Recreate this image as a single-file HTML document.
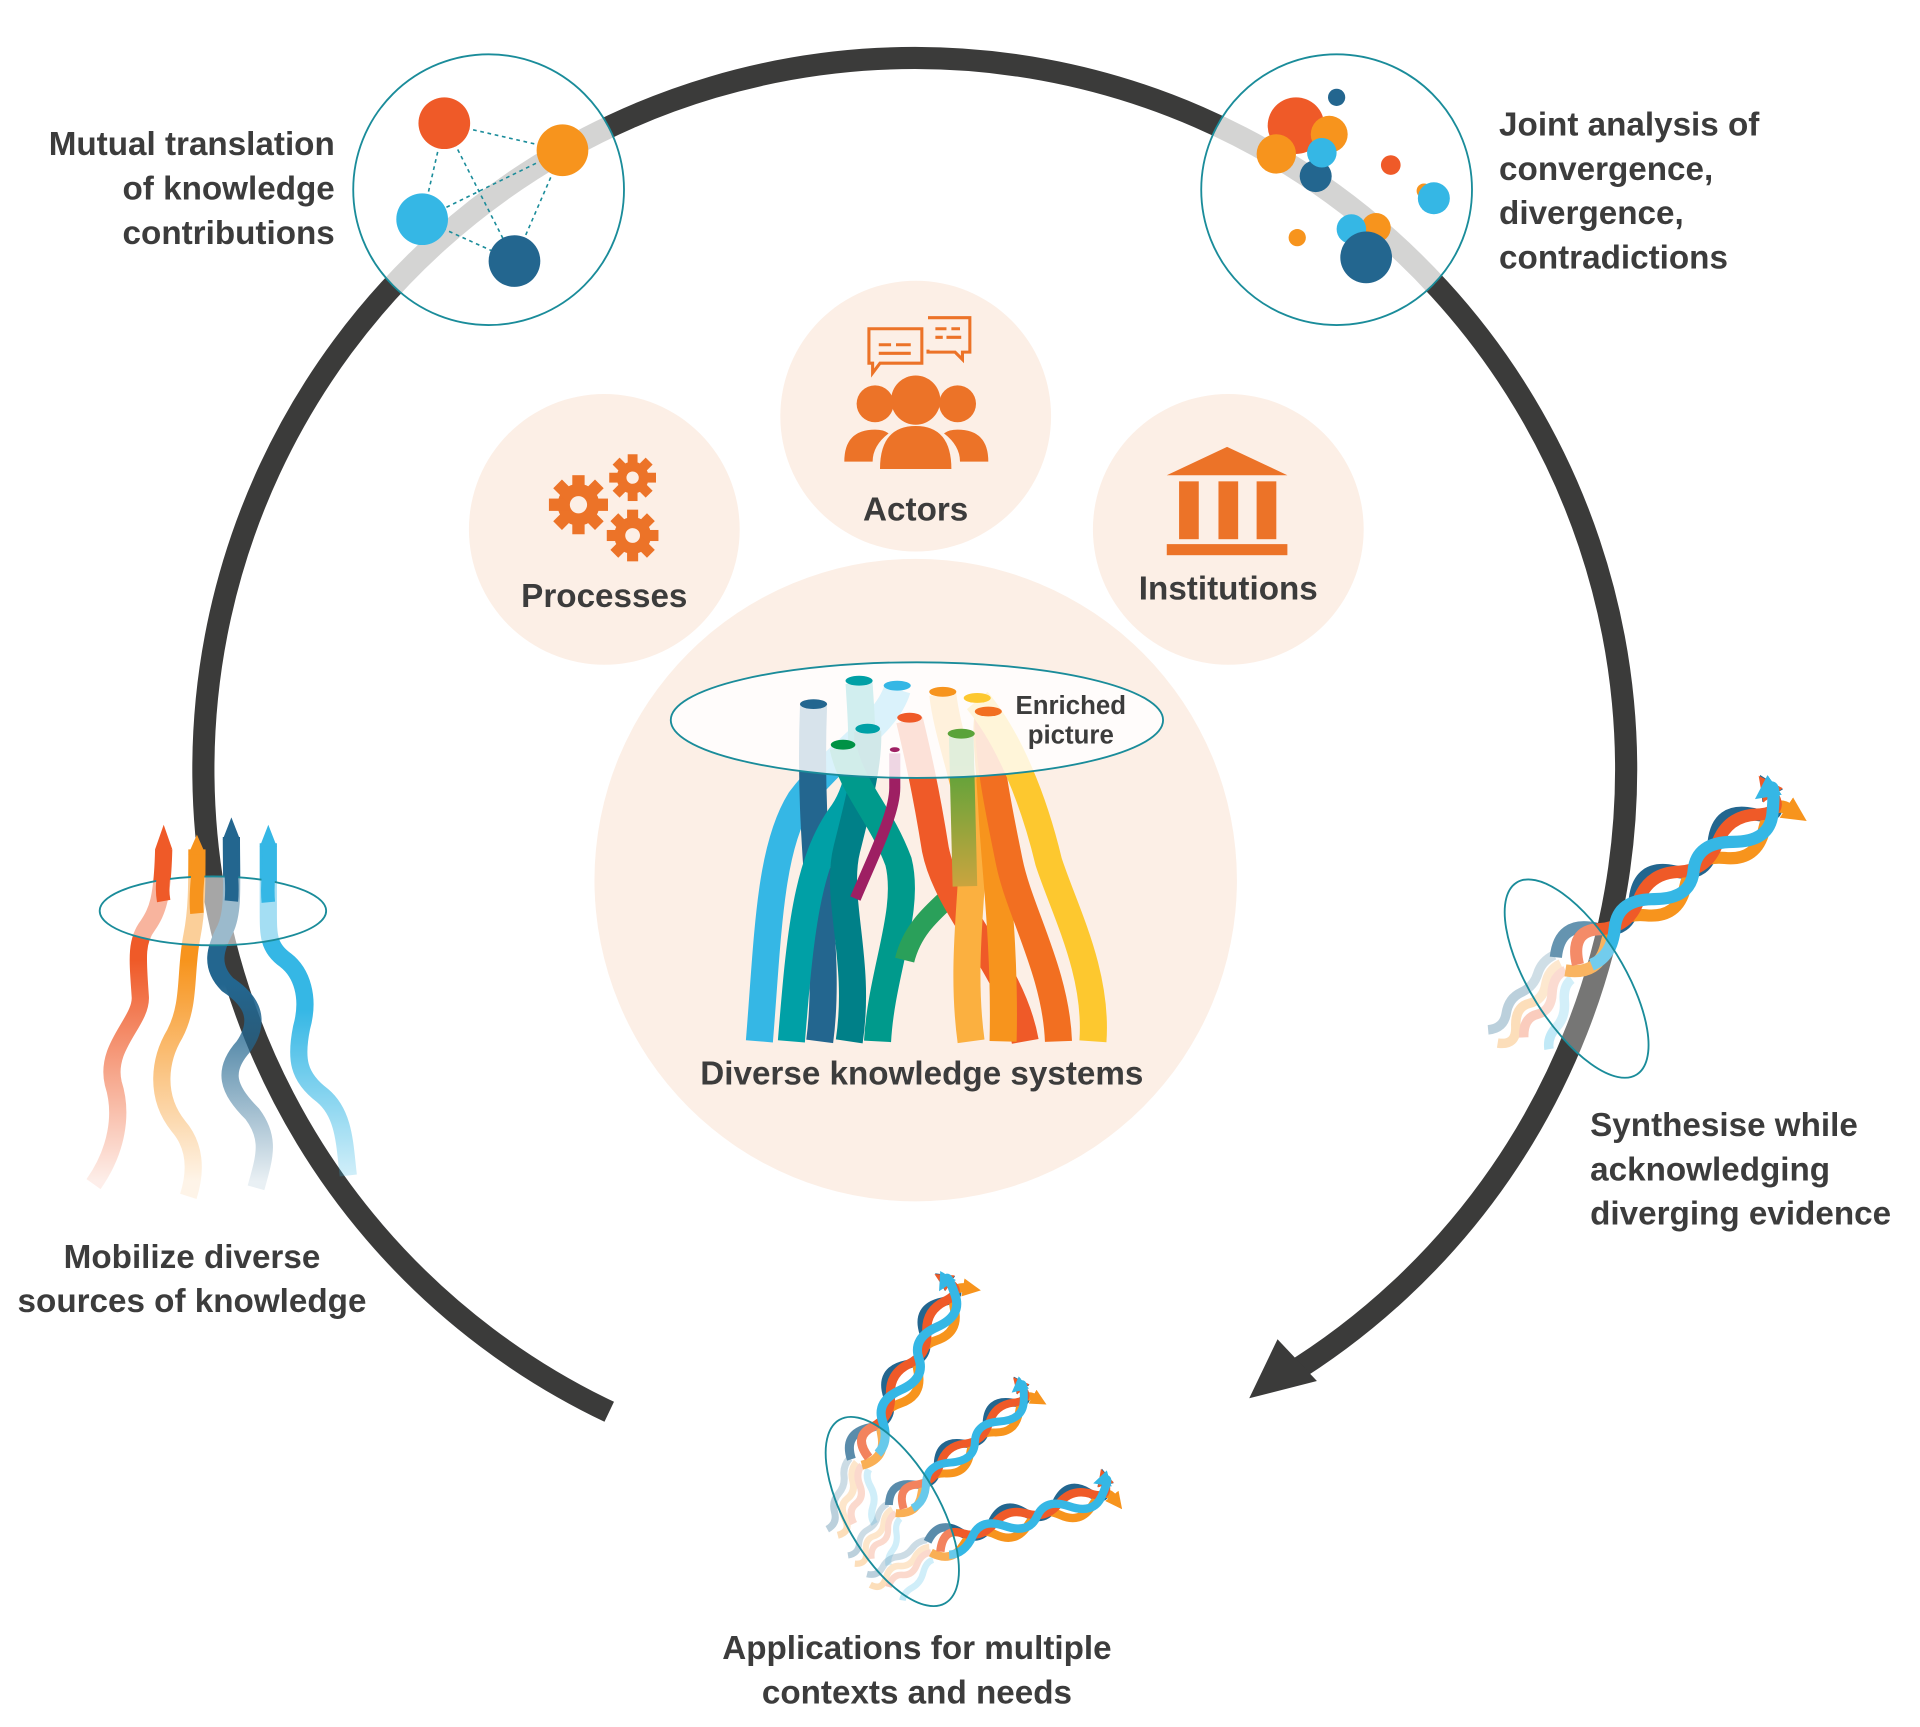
<!DOCTYPE html>
<html><head><meta charset="utf-8"><style>
html,body{margin:0;padding:0;background:#fff;}
svg{display:block;}
text{font-family:"Liberation Sans",sans-serif;font-weight:bold;fill:#3c3c3c;}
</style></head><body>
<svg width="1920" height="1727" viewBox="0 0 1560 1403" xmlns="http://www.w3.org/2000/svg">
<defs>
<linearGradient id="gR" gradientUnits="userSpaceOnUse" x1="0" y1="960" x2="0" y2="780"><stop offset="0" stop-color="#ef5a28" stop-opacity="0.1"/><stop offset="1" stop-color="#ef5a28"/></linearGradient>
<linearGradient id="gO" gradientUnits="userSpaceOnUse" x1="0" y1="960" x2="0" y2="780"><stop offset="0" stop-color="#f7941d" stop-opacity="0.1"/><stop offset="1" stop-color="#f7941d"/></linearGradient>
<linearGradient id="gD" gradientUnits="userSpaceOnUse" x1="0" y1="960" x2="0" y2="800"><stop offset="0" stop-color="#23668f" stop-opacity="0.1"/><stop offset="1" stop-color="#23668f"/></linearGradient>
<linearGradient id="gL" gradientUnits="userSpaceOnUse" x1="0" y1="960" x2="0" y2="820"><stop offset="0" stop-color="#35b7e5" stop-opacity="0.2"/><stop offset="1" stop-color="#35b7e5"/></linearGradient>
<linearGradient id="gG" gradientUnits="userSpaceOnUse" x1="0" y1="620" x2="0" y2="760"><stop offset="0" stop-color="#5aa33a"/><stop offset="1" stop-color="#f7a540"/></linearGradient>
<marker id="mD" viewBox="0 0 10 10" refX="2" refY="5" markerWidth="2" markerHeight="2" orient="auto"><path d="M0 0L10 5L0 10z" fill="#23668f"/></marker>
<marker id="mR" viewBox="0 0 10 10" refX="2" refY="5" markerWidth="2" markerHeight="2" orient="auto"><path d="M0 0L10 5L0 10z" fill="#ef5a28"/></marker>
<marker id="mO" viewBox="0 0 10 10" refX="2" refY="5" markerWidth="2" markerHeight="2" orient="auto"><path d="M0 0L10 5L0 10z" fill="#f7941d"/></marker>
<marker id="mL" viewBox="0 0 10 10" refX="2" refY="5" markerWidth="2" markerHeight="2" orient="auto"><path d="M0 0L10 5L0 10z" fill="#35b7e5"/></marker>
<g id="braid" fill="none" stroke-linecap="butt">
  <g opacity="0.3" stroke-width="7">
    <path d="M0 -8 q-10 -2 -18 4 t-18 4 t-18 6 t-18 2" stroke="#23668f"/>
    <path d="M0 0 q-10 -2 -18 6 t-18 4 t-18 8 t-18 2" stroke="#f7941d"/>
    <path d="M0 6 q-10 -2 -18 8 t-18 6 t-18 8" stroke="#ef5a28"/>
    <path d="M0 14 q-8 0 -14 10 t-16 12 t-14 10" stroke="#35b7e5"/>
  </g>
  <path d="M0 -6 q18 -20 36 0 t36 0 t36 0 t36 0 t36 0 t20 -6" stroke="#23668f" stroke-width="9" marker-end="url(#mD)"/>
  <path d="M0 6 q18 18 36 2 t36 0 t36 0 t36 0 t36 0 t24 0" stroke="#f7941d" stroke-width="9" marker-end="url(#mO)"/>
  <path d="M10 8 q10 -24 28 -12 t36 0 t36 0 t36 0 t36 0 t18 -8" stroke="#ef5a28" stroke-width="9" marker-end="url(#mR)"/>
  <path d="M18 14 q16 4 30 -12 t36 0 t36 0 t36 0 t36 0 t10 -16" stroke="#35b7e5" stroke-width="9" marker-end="url(#mL)"/>
</g>
</defs>

<circle cx="491" cy="430" r="110" fill="#fcefe6"/>
<circle cx="744" cy="338" r="110" fill="#fcefe6"/>
<circle cx="998" cy="430" r="110" fill="#fcefe6"/>
<circle cx="744" cy="715" r="261" fill="#fcefe6"/>

<path d="M495 1147 A578 578 0 1 1 1045 1118" fill="none" stroke="#3b3b3a" stroke-width="18"/>
<path d="M1015 1136 L1038 1088 L1070 1122 Z" fill="#3b3b3a"/>

<circle cx="397" cy="154" r="110" fill="#fff" fill-opacity="0.78" stroke="#1a8c9a" stroke-width="1.5"/>
<circle cx="1086" cy="154" r="110" fill="#fff" fill-opacity="0.78" stroke="#1a8c9a" stroke-width="1.5"/>
<g stroke="#1a8c9a" stroke-width="1.3" stroke-dasharray="3,3">
<line x1="361" y1="100" x2="457" y2="122"/><line x1="361" y1="100" x2="343" y2="178"/><line x1="361" y1="100" x2="418" y2="212"/>
<line x1="457" y1="122" x2="343" y2="178"/><line x1="457" y1="122" x2="418" y2="212"/><line x1="343" y1="178" x2="418" y2="212"/>
</g>
<circle cx="361" cy="100" r="21" fill="#ef5a28"/>
<circle cx="457" cy="122" r="21" fill="#f7941d"/>
<circle cx="343" cy="178" r="21" fill="#35b7e5"/>
<circle cx="418" cy="212" r="21" fill="#23668f"/>

<circle cx="1053" cy="102" r="23" fill="#ef5a28"/>
<circle cx="1080" cy="109" r="15" fill="#f7941d"/>
<circle cx="1037" cy="125" r="16" fill="#f7941d"/>
<circle cx="1069" cy="143" r="13" fill="#23668f"/>
<circle cx="1074" cy="124" r="12" fill="#35b7e5"/>
<circle cx="1086" cy="79" r="7" fill="#23668f"/>
<circle cx="1130" cy="134" r="8" fill="#ef5a28"/>
<circle cx="1157" cy="155" r="6" fill="#f7941d"/>
<circle cx="1165" cy="161" r="13" fill="#35b7e5"/>
<circle cx="1118" cy="185" r="12" fill="#f7941d"/>
<circle cx="1098" cy="186" r="12" fill="#35b7e5"/>
<circle cx="1110" cy="209" r="21" fill="#23668f"/>
<circle cx="1054" cy="193" r="7" fill="#f7941d"/>

<g fill="#ec7328">
  <circle cx="744" cy="325" r="20"/>
  <circle cx="711" cy="328" r="15"/>
  <circle cx="778" cy="328" r="15"/>
  <path d="M715 381 Q715 346 744 346 Q773 346 773 381 Z"/>
  <path d="M686 375 Q686 349 711 349 Q718 349 722 352 Q709 362 709 375 Z"/>
  <path d="M803 375 Q803 349 778 349 Q771 349 767 352 Q780 362 780 375 Z"/>
  <path d="M948 386 L997 363 L1046 386 Z"/>
  <rect x="958" y="391" width="16" height="47"/><rect x="990" y="391" width="16" height="47"/><rect x="1021" y="391" width="16" height="47"/>
  <rect x="948" y="442" width="98" height="9"/>
</g>
<g fill="none" stroke="#ec7328" stroke-width="2.5">
  <path d="M706 267 h43 v28 h-34 l-6 8 v-8 h-3 z"/>
  <path d="M754 258 h34 v28 h-6 v6 l-6 -6 h-22 v-2"/>
  <path d="M714 280 h10 M728 280 h12 M714 287 h26 M760 267 h9 M773 267 h7 M760 274 h6 M769 274 h12"/>
</g>
<g fill="#ec7328">
  <g transform="translate(470,410)">
    <circle r="17"/>
    <rect x="-5" y="-24" width="10" height="48"/><rect x="-5" y="-24" width="10" height="48" transform="rotate(45)"/><rect x="-5" y="-24" width="10" height="48" transform="rotate(90)"/><rect x="-5" y="-24" width="10" height="48" transform="rotate(135)"/>
    <circle r="7" fill="#fcefe6"/>
  </g>
  <g transform="translate(514,388)">
    <circle r="13"/>
    <rect x="-4" y="-19" width="8" height="38"/><rect x="-4" y="-19" width="8" height="38" transform="rotate(45)"/><rect x="-4" y="-19" width="8" height="38" transform="rotate(90)"/><rect x="-4" y="-19" width="8" height="38" transform="rotate(135)"/>
    <circle r="5" fill="#fcefe6"/>
  </g>
  <g transform="translate(514,435)">
    <circle r="15"/>
    <rect x="-4.5" y="-21" width="9" height="42"/><rect x="-4.5" y="-21" width="9" height="42" transform="rotate(45)"/><rect x="-4.5" y="-21" width="9" height="42" transform="rotate(90)"/><rect x="-4.5" y="-21" width="9" height="42" transform="rotate(135)"/>
    <circle r="6" fill="#fcefe6"/>
  </g>
</g>

<g fill="none" stroke-width="22">
  <path d="M617 846 C624 760 625 690 650 650 C680 610 720 590 729 560" stroke="#35b7e5"/>
  <path d="M666 846 C676 770 656 700 661 573" stroke="#23668f"/>
  <path d="M643 846 C650 760 655 700 685 660 C705 630 700 590 698 555" stroke="#00a0a6"/>
  <path d="M690 846 C700 780 678 730 688 690 C698 650 706 620 705 594" stroke="#008088"/>
  <path d="M713 846 C716 790 740 740 730 700 C715 660 692 640 685 607" stroke="#009a8c"/>
  <path d="M735 780 C745 740 780 730 795 700" stroke="#2aa05a" stroke-width="16"/>
  <path d="M727 612 L727 640 C727 660 712 690 695 730" stroke="#9e1f63" stroke-width="9"/>
  <path d="M833 846 C822 785 770 740 760 690 C752 640 745 610 739 585" stroke="#ef5a28"/>
  <path d="M789 846 C780 780 792 720 790 680 C788 640 770 600 766 564" stroke="#fbb040"/>
  <path d="M815 846 C817 770 808 700 806 660 C804 620 800 595 803 580" stroke="#f7941d"/>
  <path d="M860 846 C858 790 828 740 820 700 C812 660 803 620 803 580" stroke="#f26f21"/>
  <path d="M888 846 C892 790 865 740 852 700 C840 650 820 600 794 569" stroke="#fdc82f"/>
  <path d="M781 598 L784 720" stroke="url(#gG)" stroke-width="20"/>
</g>
<ellipse cx="745" cy="585" rx="200" ry="47" fill="#fff" fill-opacity="0.82" stroke="#1a8c9a" stroke-width="1.5"/>
<g>
  <ellipse cx="661" cy="572" rx="11" ry="4" fill="#23668f"/>
  <ellipse cx="698" cy="553" rx="11" ry="4" fill="#00a0a6"/>
  <ellipse cx="729" cy="557" rx="11" ry="4" fill="#35b7e5"/>
  <ellipse cx="766" cy="562" rx="11" ry="4" fill="#f7941d"/>
  <ellipse cx="794" cy="567" rx="11" ry="4" fill="#fdc82f"/>
  <ellipse cx="803" cy="578" rx="11" ry="4" fill="#f26f21"/>
  <ellipse cx="705" cy="592" rx="10" ry="4" fill="#00a0a6"/>
  <ellipse cx="685" cy="605" rx="10" ry="4" fill="#009245"/>
  <ellipse cx="739" cy="583" rx="10" ry="4" fill="#ef5a28"/>
  <ellipse cx="727" cy="609" rx="4" ry="2" fill="#9e1f63"/>
  <ellipse cx="781" cy="596" rx="11" ry="4" fill="#5aa33a"/>
</g>

<g fill="none" stroke-width="14">
  <path d="M76 962 C95 935 100 905 92 880 C85 850 115 830 114 810 C112 780 110 765 120 752 C128 740 132 730 133 690" stroke="url(#gR)"/>
  <path d="M153 972 C160 950 158 930 145 915 C125 890 130 860 142 840 C155 815 150 790 156 760 C160 740 160 720 160 690" stroke="url(#gO)"/>
  <path d="M208 965 C215 940 220 925 205 905 C185 885 180 870 198 850 C215 825 200 810 185 800 C170 785 175 770 183 755 C190 740 188 720 188 680" stroke="url(#gD)"/>
  <path d="M283 955 C280 930 280 905 262 890 C242 875 240 860 245 835 C252 810 245 790 232 780 C218 770 218 760 218 740 C218 720 218 710 218 685" stroke="url(#gL)"/>
</g>
<ellipse cx="173" cy="740" rx="92" ry="28" fill="#fff" fill-opacity="0.55" stroke="#1a8c9a" stroke-width="1.5"/>
<g fill="none" stroke-width="11">
  <path d="M133 732 C130 715 136 705 133 688" stroke="#ef5a28"/>
  <path d="M160 742 C158 720 163 710 160 692" stroke="#f7941d"/>
  <path d="M188 732 C190 712 185 700 188 680" stroke="#23668f"/>
  <path d="M218 733 C216 712 221 705 218 686" stroke="#35b7e5"/>
</g>
<g>
  <path d="M126 690 L133 670 L140 690 Z" fill="#ef5a28"/>
  <path d="M153 694 L160 678 L167 694 Z" fill="#f7941d"/>
  <path d="M181 682 L188 664 L195 682 Z" fill="#23668f"/>
  <path d="M211 688 L218 670 L225 688 Z" fill="#35b7e5"/>
</g>

<use href="#braid" transform="translate(1268,783) rotate(-36) scale(1.1)"/>
<ellipse cx="1281" cy="795" rx="38" ry="92" transform="rotate(-32 1281 795)" fill="#fff" fill-opacity="0.3" stroke="#1a8c9a" stroke-width="1.5"/>

<use href="#braid" transform="translate(696,1188) rotate(-60) scale(0.82)"/>
<use href="#braid" transform="translate(725,1226) rotate(-40) scale(0.72)"/>
<use href="#braid" transform="translate(755,1257) rotate(-17) scale(0.76)"/>
<ellipse cx="725" cy="1228" rx="38" ry="86" transform="rotate(-30 725 1228)" fill="#fff" fill-opacity="0.25" stroke="#1a8c9a" stroke-width="1.5"/>

<g font-size="27">
  <text x="272" y="126" text-anchor="end">Mutual translation</text>
  <text x="272" y="162" text-anchor="end">of knowledge</text>
  <text x="272" y="198" text-anchor="end">contributions</text>
  <text x="1218" y="110">Joint analysis of</text>
  <text x="1218" y="146">convergence,</text>
  <text x="1218" y="182">divergence,</text>
  <text x="1218" y="218">contradictions</text>
  <text x="1292" y="923">Synthesise while</text>
  <text x="1292" y="959">acknowledging</text>
  <text x="1292" y="995">diverging evidence</text>
  <text x="156" y="1030" text-anchor="middle">Mobilize diverse</text>
  <text x="156" y="1066" text-anchor="middle">sources of knowledge</text>
  <text x="745" y="1348" text-anchor="middle">Applications for multiple</text>
  <text x="745" y="1384" text-anchor="middle">contexts and needs</text>
  <text x="744" y="423" text-anchor="middle">Actors</text>
  <text x="491" y="493" text-anchor="middle">Processes</text>
  <text x="998" y="487" text-anchor="middle">Institutions</text>
  <text x="749" y="881" text-anchor="middle">Diverse knowledge systems</text>
</g>
<g font-size="21">
  <text x="870" y="580" text-anchor="middle">Enriched</text>
  <text x="870" y="604" text-anchor="middle">picture</text>
</g>
</svg>
</body></html>
